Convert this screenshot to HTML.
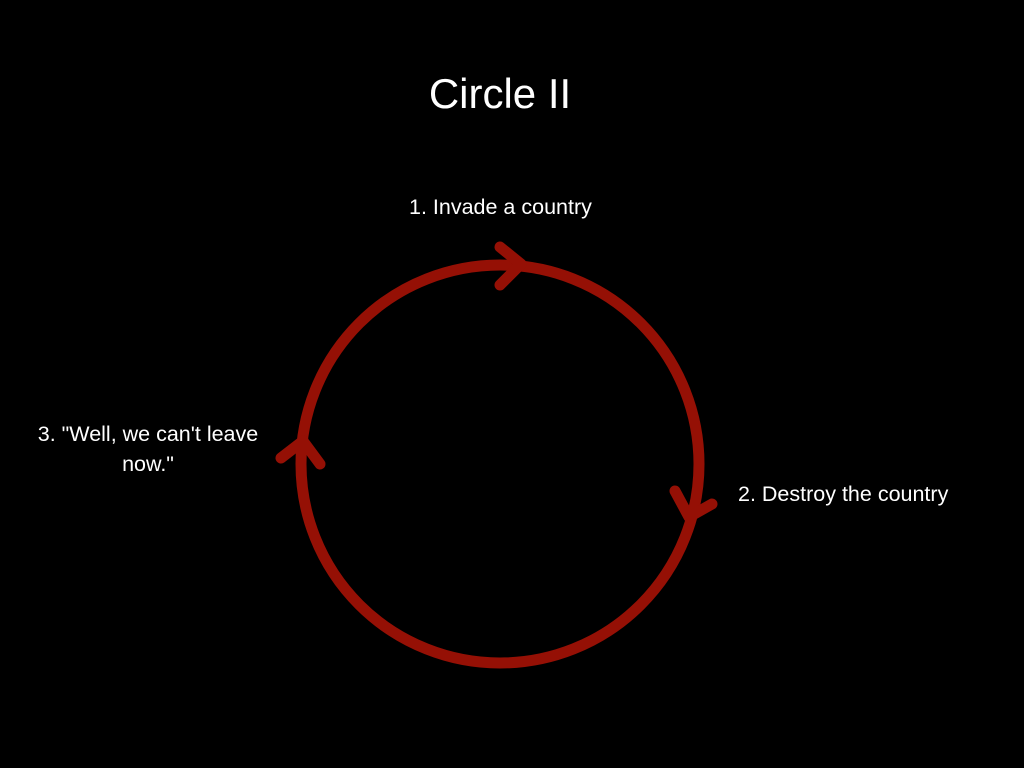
<!DOCTYPE html>
<html><head><meta charset="utf-8"><style>
html,body{margin:0;padding:0;background:#000;}
body{width:1024px;height:768px;position:relative;overflow:hidden;font-family:"Liberation Sans",sans-serif;color:#fff;}
.t{position:absolute;white-space:nowrap;}
</style></head><body>
<svg width="1024" height="768" style="position:absolute;left:0;top:0">
<circle cx="500" cy="464" r="199" fill="none" stroke="#951005" stroke-width="11"/>
<g fill="none" stroke="#951005" stroke-width="11" stroke-linecap="round" stroke-linejoin="round">
<polyline points="500,247 521,264 500,285"/>
<polyline points="281,458 303,441 320,464"/>
<polyline points="675,491 689,517 712,504"/>
</g>
</svg>
<div class="t" style="left:0;width:1000px;text-align:center;top:70px;font-size:42px;">Circle II</div>
<div class="t" style="left:409px;top:195px;font-size:21.5px;">1. Invade a country</div>
<div class="t" style="left:738px;top:482px;font-size:21.5px;">2. Destroy the country</div>
<div class="t" style="left:18px;width:260px;text-align:center;top:419px;font-size:21.5px;line-height:30px;white-space:normal;">3. "Well, we can't leave now."</div>
</body></html>
